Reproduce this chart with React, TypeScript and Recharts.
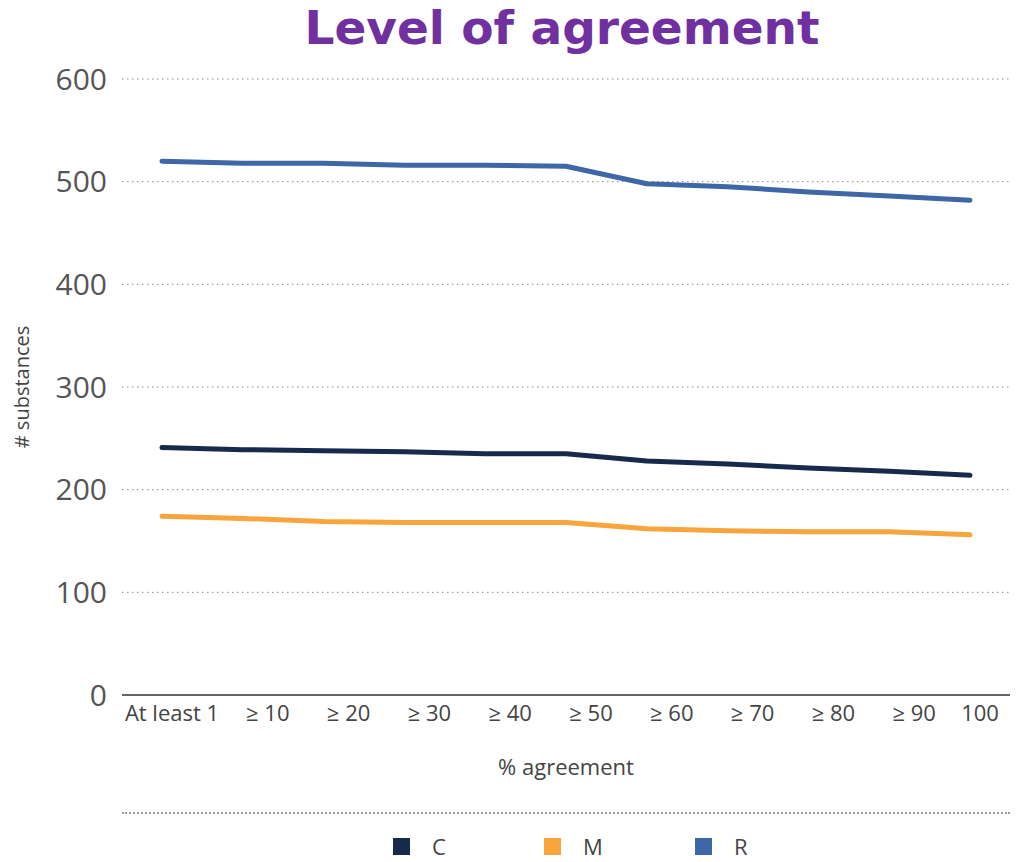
import { CartesianGrid, Label, Line, LineChart, XAxis, YAxis } from "recharts"

const categories = ["At least 1", "≥ 10", "≥ 20", "≥ 30", "≥ 40", "≥ 50", "≥ 60", "≥ 70", "≥ 80", "≥ 90", "100"]
const seriesC = [241, 239, 238, 237, 235, 235, 228, 225, 221, 218, 214]
const seriesM = [174, 172, 169, 168, 168, 168, 162, 160, 159, 159, 156]
const seriesR = [520, 518, 518, 516, 516, 515, 498, 495, 490, 486, 482]
const yTicks = [0, 100, 200, 300, 400, 500, 600]

const series = [
  { key: "C", color: "#182a4c" },
  { key: "M", color: "#f7a53c" },
  { key: "R", color: "#3f66a6" },
]

const data = categories.map((name, i) => ({
  name,
  C: seriesC[i],
  M: seriesM[i],
  R: seriesR[i],
}))

const font = "'Open Sans', 'Noto Sans', sans-serif"

// labels in the source sit a bit right of their points, except the two ends
function XTick(props: any) {
  const { x, y, payload, index } = props
  const last = index === categories.length - 1
  const dx = index === 0 || last ? 10 : 25
  return (
    <text x={x + dx} y={y} dy={16} textAnchor="middle" fill="#444" fontSize={22} fontFamily={font}>
      {payload.value}
    </text>
  )
}

function LegendBox() {
  return (
    <div style={{ position: "absolute", left: 0, top: 805, width: 1018, height: 55 }}>
      <div
        style={{
          position: "absolute",
          left: 122,
          top: 7,
          width: 888,
          borderTop: "2px dotted #9a9a9a",
        }}
      />
      {series.map((s, i) => (
        <div
          key={s.key}
          style={{
            position: "absolute",
            left: 393 + i * 151,
            top: 26,
            display: "flex",
            alignItems: "center",
            fontFamily: font,
            fontSize: 22,
            color: "#444",
          }}
        >
          <span style={{ width: 17, height: 17, background: s.color, display: "inline-block", marginRight: 22 }} />
          <span>{s.key}</span>
        </div>
      ))}
    </div>
  )
}

export default function App() {
  return (
    <div style={{ position: "absolute", left: 0, top: 0, width: 1018, height: 862, background: "#fff" }}>
      <div
        style={{
          position: "absolute",
          left: 0,
          top: 0,
          width: 1124,
          textAlign: "center",
          fontFamily: "'DejaVu Sans', sans-serif",
          fontWeight: "bold",
          fontSize: 47,
          color: "#7030a0",
        }}
      >
        Level of agreement
      </div>
      <LineChart width={1018} height={862} data={data} margin={{ top: 79, right: 8, bottom: 127, left: 0 }}>
        <CartesianGrid vertical={false} stroke="#8c8c8c" strokeDasharray="1.5 3.5" />
        <XAxis
          dataKey="name"
          padding={{ left: 40, right: 40 }}
          tickLine={false}
          axisLine={{ stroke: "#666", strokeWidth: 2 }}
          tick={<XTick />}
          tickMargin={4}
          height={40}
          interval={0}
        >
          <Label value="% agreement" position="bottom" offset={24} fill="#444" fontSize={22} fontFamily={font} />
        </XAxis>
        <YAxis
          domain={[0, 600]}
          ticks={yTicks}
          width={122}
          axisLine={false}
          tickLine={false}
          tickSize={0}
          tickMargin={15}
          tick={{ fill: "#555", fontSize: 30, fontFamily: font }}
        >
          <Label value="# substances" angle={-90} position="insideLeft" offset={22} fill="#444" fontSize={20} fontFamily={font} style={{ textAnchor: "middle" }} />
        </YAxis>
        {series.map((s) => (
          <Line
            key={s.key}
            type="linear"
            dataKey={s.key}
            stroke={s.color}
            strokeWidth={5}
            strokeLinecap="round"
            strokeLinejoin="round"
            dot={false}
            activeDot={false}
            isAnimationActive={false}
          />
        ))}
      </LineChart>
      <LegendBox />
    </div>
  )
}
